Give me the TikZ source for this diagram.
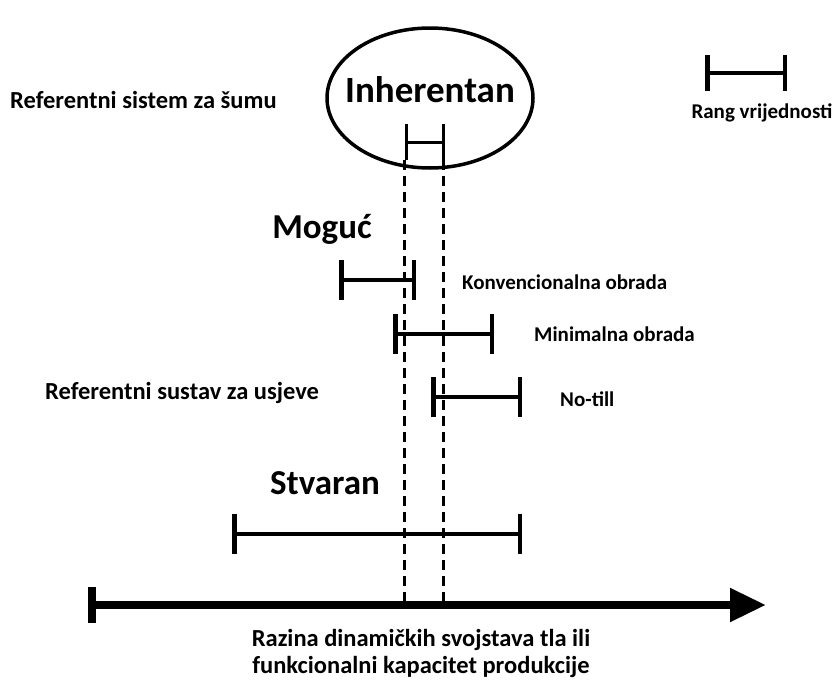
\documentclass[tikz,border=0pt]{standalone}
\usepackage{fontspec}
\setmainfont{Carlito}
\usetikzlibrary{arrows.meta,shapes.geometric}

\begin{document}
\begin{tikzpicture}[x=1pt, y=-1pt,
  lbl/.style={font=\bfseries\fontsize{24.5}{27}\selectfont, inner sep=0pt},
  sml/.style={font=\bfseries\fontsize{21}{24}\selectfont, inner sep=0pt},
  big/.style={font=\bfseries\fontsize{35}{38}\selectfont, inner sep=0pt},
  rng/.style={line width=4.5pt, {Bar[width=40pt]}-{Bar[width=40pt]}},
  thin/.style={line width=3pt, {Bar[width=36pt]}-{Bar[width=36pt]}},
  guide/.style={line width=3pt, dash pattern=on 10pt off 6pt},
  axis/.style={line width=8pt, {Bar[width=36pt]}-{Triangle[length=36pt,width=32pt]}}]
\useasboundingbox (0,0) rectangle (833,683);
\node[draw, ellipse, line width=3.5pt, minimum width=206pt, minimum height=140pt] (inh) at (430,98) {};
\node[big, font=\bfseries\fontsize{37}{40}\selectfont] (inhT) at (430,90) {Inherentan};
\coordinate (hA) at (405,142);
\coordinate (hB) at (445,142);
\draw[thin] (hA) -- (hB);
\coordinate (d1a) at (404,160);
\coordinate (d1b) at (404,603);
\coordinate (d2a) at (443,160);
\coordinate (d2b) at (443,603);
\draw[guide] (d1a) -- (d1b);
\draw[guide] (d2a) -- (d2b);
\node[lbl, anchor=west] (suma) at (10,100) {Referentni sistem za šumu};
\coordinate (rA) at (705,73);
\coordinate (rB) at (787,73);
\draw[rng, {Bar[width=36pt]}-{Bar[width=36pt]}] (rA) -- (rB);
\node[sml] (rang) at (762,113) {Rang vrijednosti};
\node[big] (moguc) at (322,229) {Moguć};
\coordinate (kA) at (339,280);
\coordinate (kB) at (416,280);
\draw[rng] (kA) -- (kB);
\node[sml, anchor=west] (konv) at (462,282) {Konvencionalna obrada};
\coordinate (mA) at (393,334);
\coordinate (mB) at (494,334);
\draw[rng] (mA) -- (mB);
\node[sml, anchor=west] (mini) at (534,334) {Minimalna obrada};
\coordinate (nA) at (431,397);
\coordinate (nB) at (522,397);
\draw[rng] (nA) -- (nB);
\node[sml, anchor=west] (notill) at (560,399) {No-till};
\node[lbl, anchor=west] (usjeve) at (45,393) {Referentni sustav za usjeve};
\node[big] (stv) at (325,483) {Stvaran};
\coordinate (sA) at (232,534);
\coordinate (sB) at (522,534);
\draw[rng] (sA) -- (sB);
\coordinate (xA) at (88,605);
\coordinate (xB) at (766,605);
\draw[axis] (xA) -- (xB);
\node[lbl, align=center, font=\bfseries\fontsize{24.5}{27}\selectfont] (xlbl) at (421,653)
  {Razina dinamičkih svojstava tla ili\\ funkcionalni kapacitet produkcije};
\end{tikzpicture}
\end{document}
